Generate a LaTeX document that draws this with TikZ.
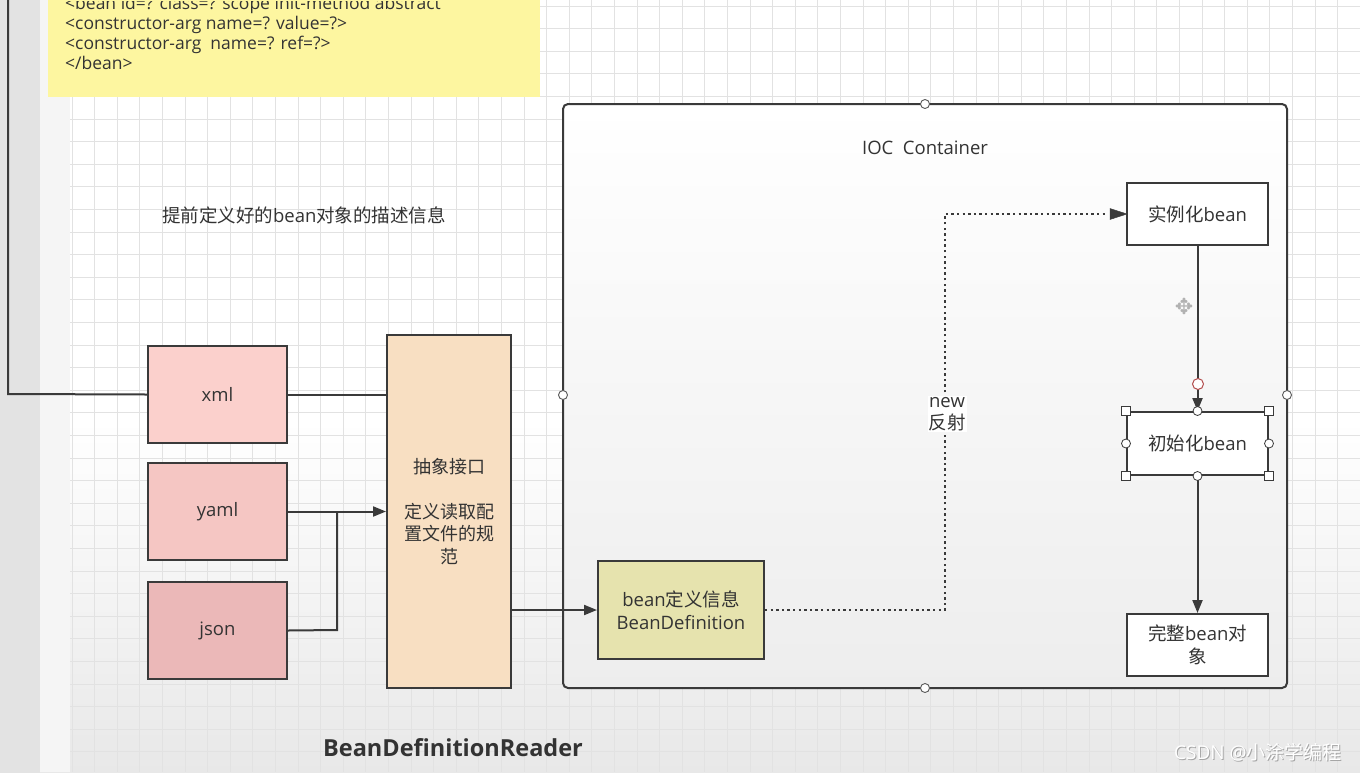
\documentclass[tikz,border=0pt]{standalone}
\usepackage{fontspec}
\setmainfont{Open Sans}
\newfontfamily\cjk{Noto Sans CJK SC}
\newfontfamily\symfont{DejaVu Sans}
\usetikzlibrary{arrows.meta}
\definecolor{edge}{HTML}{3A3A3A}
\definecolor{pinkA}{HTML}{FBD0CC}
\definecolor{pinkB}{HTML}{F5C6C3}
\definecolor{pinkC}{HTML}{EBB8B8}
\definecolor{peach}{HTML}{F8DFC2}
\definecolor{khaki}{HTML}{E6E3AE}
\definecolor{note}{HTML}{FDF6A0}
\definecolor{gridc}{HTML}{E2E2E2}
\definecolor{txt}{HTML}{333333}
\tikzset{
  every node/.style={text=txt},
  lbl/.style={font=\fontsize{18.5}{22.5}\selectfont},
  fbox/.style={draw=edge, line width=2pt, inner sep=2pt, align=center, lbl},
  conn/.style={draw=edge, line width=2pt},
  arr/.style={conn, -{Triangle[length=13pt,width=10pt]}},
  dotl/.style={draw=edge, line width=2.6pt, dash pattern=on 2.4pt off 3.2pt},
  handle/.style={draw=edge, fill=white, line width=0.8pt},
}
\begin{document}
\begin{tikzpicture}[x=1pt,y=-1pt]
\useasboundingbox (0,0) rectangle (1360,772);
% background
\shade[top color=white, bottom color=gray!22] (0,0) rectangle (1360,772);
\fill[white] (40,0) rectangle (1360,420);
\shade[top color=white, bottom color=gray!18] (40,420) rectangle (1360,772);
\fill[gray!22] (0,0) rectangle (40,772);
\fill[gray!8] (40,0) rectangle (70,772);
\foreach \x in {72,94.6,...,1360} \draw[gridc, line width=0.9pt] (\x,0) -- (\x,772);
\foreach \y in {6,28.6,...,772} \draw[gridc, line width=0.9pt] (70,\y) -- (1360,\y);

% yellow note (its first line is cut off at the top edge, as in the original)
\fill[note] (48,0) rectangle (540,97);
\begin{scope}
\clip (48,1.5) rectangle (540,97);
\node[anchor=west, font=\fontsize{17.5}{20}\selectfont, align=left, inner sep=0pt] (noteTxt) at (65,33)
 {\textless bean id=? class=? scope init-method abstract\\
  \textless constructor-arg name=? value=?\textgreater\\
  \textless constructor-arg\ \ name=? ref=?\textgreater\\
  \textless/bean\textgreater};
\end{scope}

% description
\node[lbl] (desc) at (304,215) {{\cjk 提前定义好的}bean{\cjk 对象的描述信息}};

% IOC container
\shade[top color=white, bottom color=gray!14, rounded corners=5pt] (563,104) rectangle (1287,688);
\draw[edge, line width=2pt, rounded corners=5pt] (563,104) rectangle (1287,688);
\foreach \p in {(925,104),(563,395),(1287,395),(925,688)}
  \draw[draw=gray!70!black, fill=white, line width=0.9pt] \p circle (4.5);
\node[lbl] (ioc) at (925,148) {IOC\ \ Container};

% source boxes
\node[fbox, fill=pinkA, minimum width=139, minimum height=97] (xml) at (217.5,394.5) {xml};
\node[fbox, fill=pinkB, minimum width=139, minimum height=97] (yaml) at (217.5,511.5) {yaml};
\node[fbox, fill=pinkC, minimum width=139, minimum height=97] (json) at (217.5,630.5) {json};

% reader
\node[fbox, fill=peach, minimum width=124, minimum height=353, text width=110, font=\cjk\fontsize{18}{22.5}\selectfont] (reader) at (449,511.5)
 {抽象接口\\[22.5pt]定义读取配\\置文件的规\\范};
\node[font=\bfseries\fontsize{23.5}{26}\selectfont] (readerLbl) at (453,748) {BeanDefinitionReader};

% bean definition
\node[fbox, fill=khaki, minimum width=166, minimum height=98] (bd) at (681,610) {bean{\cjk 定义信息}\\BeanDefinition};

% bean lifecycle boxes
\node[fbox, fill=white, minimum width=141, minimum height=62] (inst) at (1197.5,214) {{\cjk 实例化}bean};
\node[fbox, fill=white, minimum width=141, minimum height=63] (init) at (1197.5,443.5) {{\cjk 初始化}bean};
\node[fbox, fill=white, minimum width=141, minimum height=62, text width=125] (full) at (1197.5,645) {{\cjk 完整}bean{\cjk 对}\\{\cjk 象}};

% connectors on the left
\coordinate (topL) at (8,0);
\coordinate (cornerL) at (8,394);
\draw[conn] (topL) -- (cornerL) -- (xml.west);
\draw[conn] (xml.east) -- (xml.east -| reader.west);
\draw[arr] (yaml.east) -- (yaml.east -| reader.west);
\coordinate (jj) at (337,630);
\draw[conn] (json.east) -- (jj) -- (337,513);
\draw[arr] (reader.east |- bd.west) -- (bd.west);

% dotted reflection path
\coordinate (d1) at (945,610);
\coordinate (d2) at (945,214);
\draw[dotl] (bd.east) -- (d1) -- (d2) -- (1108,214);
\draw[draw=edge, fill=edge] (1127,214) -- (1110,208.5) -- (1110,219.5) -- cycle;
\node[lbl, align=center, fill=white, inner sep=1pt] (newLbl) at (947,414) {new\\{\cjk 反射}};

% vertical flow
\draw[arr] (inst.south) -- (init.north);
\draw[arr] (init.south) -- (full.north);
\draw[draw=red!40!gray, fill=white, line width=1pt] (1198,384) circle (5.5);

% selection handles
\foreach \a in {north west,north east,south west,south east}
  \draw[handle] ([shift={(-4.5,-4.5)}]init.\a) rectangle ([shift={(4.5,4.5)}]init.\a);
\foreach \a in {north,south,west,east}
  \draw[handle] (init.\a) circle (4.5);

% move cursor
\node[font=\symfont\fontsize{22}{22}\selectfont, text=gray!60] (cursor) at (1184,306) {✥};

% watermark
\node[font=\fontsize{19}{20}\selectfont, text=gray!70] (wm0) at (1259,753) {CSDN @{\cjk 小涂学编程}};
\node[font=\fontsize{19}{20}\selectfont, text=white] (wm) at (1258,752) {CSDN @{\cjk 小涂学编程}};
\end{tikzpicture}
\end{document}
